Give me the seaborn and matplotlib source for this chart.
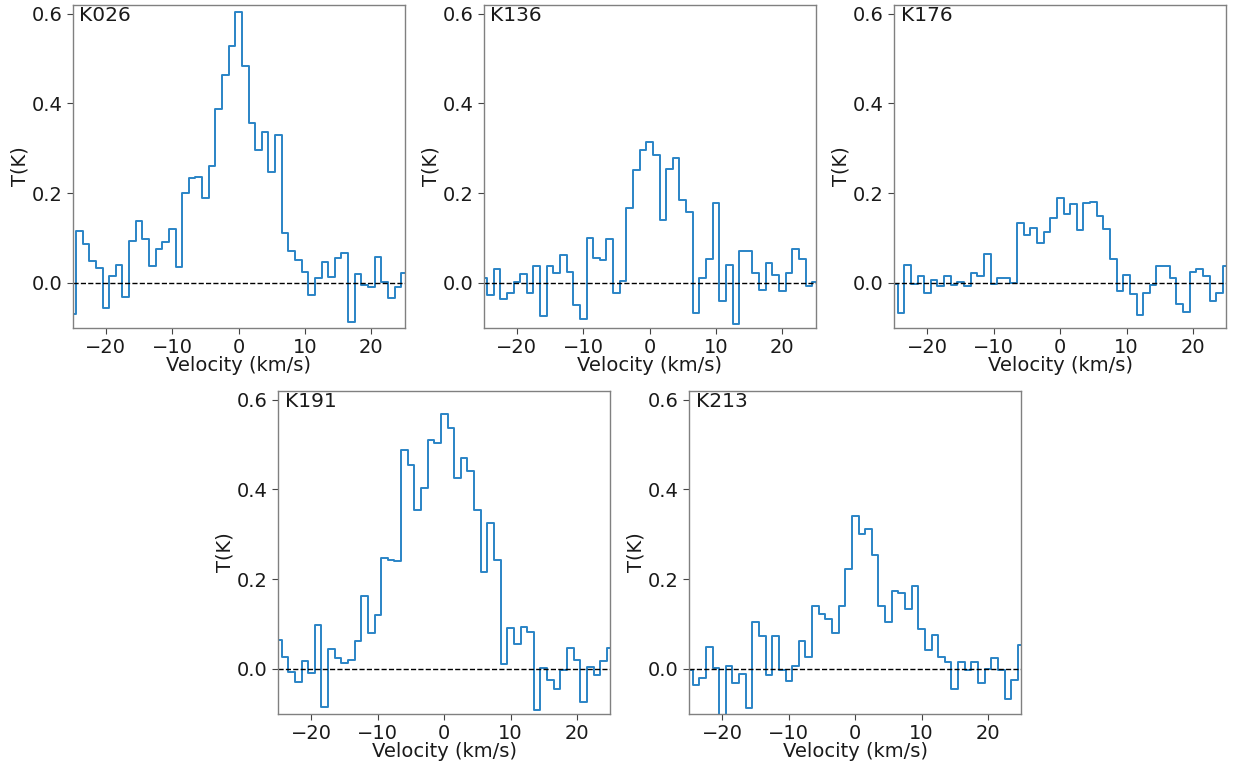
import numpy as np
import pandas as pd
import matplotlib
matplotlib.use("Agg")
import matplotlib.pyplot as plt
import seaborn as sns

velocity = list(range(-25, 26))

k026 = [-0.07, 0.115, 0.086, 0.049, 0.032, -0.057, 0.015, 0.039, -0.031, 0.093,
        0.137, 0.098, 0.038, 0.076, 0.092, 0.119, 0.036, 0.2, 0.233, 0.236,
        0.19, 0.261, 0.387, 0.464, 0.527, 0.604, 0.484, 0.356, 0.296, 0.336,
        0.246, 0.33, 0.112, 0.07, 0.052, 0.025, -0.028, 0.01, 0.046, 0.012,
        0.055, 0.067, -0.087, 0.02, -0.004, -0.009, 0.058, 0.0015, -0.033, -0.009,
        0.021]
k136 = [0.01, -0.028, 0.031, -0.036, -0.022, 0.002, 0.019, -0.022, 0.038, -0.073,
        0.038, 0.022, 0.062, 0.025, -0.049, -0.081, 0.101, 0.056, 0.05, 0.097,
        -0.022, 0.004, 0.166, 0.251, 0.297, 0.315, 0.285, 0.141, 0.254, 0.279,
        0.185, 0.159, -0.068, 0.01, 0.054, 0.177, -0.041, 0.039, -0.092, 0.071,
        0.07, 0.022, -0.015, 0.045, 0.018, -0.018, 0.021, 0.076, 0.054, -0.007,
        0.001]
k176 = [-0.002, -0.067, 0.039, -0.003, 0.016, -0.022, 0.006, -0.007, 0.016, -0.004,
        0.002, -0.007, 0.021, 0.016, 0.064, -0.0015, 0.011, 0.011, 0.0, 0.133,
        0.106, 0.123, 0.088, 0.114, 0.145, 0.188, 0.154, 0.175, 0.118, 0.177,
        0.18, 0.149, 0.119, 0.054, -0.019, 0.017, -0.024, -0.071, -0.022, -0.004,
        0.038, 0.038, 0.011, -0.048, -0.065, 0.025, 0.031, 0.016, -0.041, -0.022,
        0.037]
k191 = [0.064, 0.027, -0.008, -0.029, 0.017, -0.01, 0.098, -0.086, 0.045, 0.025,
        0.012, 0.019, 0.063, 0.163, 0.079, 0.12, 0.247, 0.243, 0.24, 0.487,
        0.454, 0.354, 0.402, 0.51, 0.504, 0.568, 0.537, 0.425, 0.471, 0.441,
        0.354, 0.216, 0.324, 0.243, 0.01, 0.09, 0.055, 0.094, 0.083, -0.091,
        0.001, -0.024, -0.044, -0.0015, 0.046, 0.019, -0.075, 0.004, -0.014, 0.018,
        0.047]
k213 = [-0.003, -0.035, -0.02, 0.049, 0.0015, -0.13, 0.006, -0.031, -0.011, -0.088,
        0.104, 0.073, -0.013, 0.073, -0.003, -0.027, 0.006, 0.061, 0.026, 0.141,
        0.123, 0.11, 0.081, 0.14, 0.222, 0.34, 0.301, 0.312, 0.254, 0.14,
        0.105, 0.174, 0.168, 0.133, 0.184, 0.088, 0.042, 0.075, 0.026, 0.016,
        -0.044, 0.016, -0.0015, 0.016, -0.031, 0.0, 0.025, -0.0015, -0.067, -0.024,
        0.054]

names = ["K026", "K136", "K176", "K191", "K213"]
spectra = [k026, k136, k176, k191, k213]
xtick_vals = [-20, -10, 0, 10, 20]
xtick_labels = ["\u221220", "\u221210", "0", "10", "20"]
ytick_vals = [0.0, 0.2, 0.4, 0.6]
ytick_labels = ["0.0", "0.2", "0.4", "0.6"]

sns.set_style("ticks")
plt.rcParams["font.family"] = ["DejaVu Sans"]
plt.rcParams["font.size"] = 14

fig = plt.figure(figsize=(12.35, 7.69), dpi=100)
W, H = 1235, 769
boxes = [(72.7, 4.7), (483.7, 4.7), (894.3, 4.7), (278.3, 390.7), (689.3, 390.7)]
aw, ah = 331.8, 323.0

for (left, top), name, spec in zip(boxes, names, spectra):
    ax = fig.add_axes([left / W, (H - top - ah) / H, aw / W, ah / H])
    df = pd.DataFrame({"v": velocity, "T": spec})
    sns.lineplot(data=df, x="v", y="T", ax=ax, drawstyle="steps-mid",
                 color="#2a84c6", linewidth=1.4)
    ax.axhline(0, color="black", linestyle="--", linewidth=1.0)
    ax.set_xlim(-25, 25)
    ax.set_ylim(-0.1, 0.62)
    ax.set_xticks(xtick_vals)
    ax.set_yticks(ytick_vals)
    ax.set_xticklabels(xtick_labels)
    ax.set_yticklabels(ytick_labels)
    ax.tick_params(labelsize=14, length=4, width=0.8, colors="#444444", labelcolor="#1a1a1a")
    ax.set_xlabel("Velocity (km/s)", fontsize=14, labelpad=-1, color="#1a1a1a")
    ax.set_ylabel("T(K)", fontsize=14, labelpad=1.5, color="#1a1a1a")
    for sp in ax.spines.values():
        sp.set_color("#808080")
        sp.set_linewidth(1.0)
    ax.text(0.02, 0.995, name, transform=ax.transAxes, ha="left", va="top",
            fontsize=14.5, color="#1a1a1a")

fig.savefig("out.png", dpi=100)
